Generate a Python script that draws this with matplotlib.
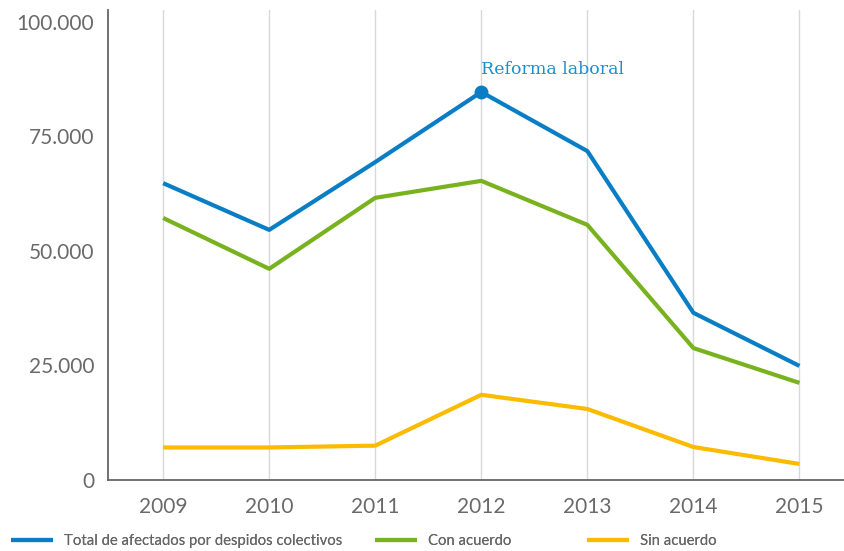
import matplotlib
matplotlib.use("Agg")
import matplotlib.pyplot as plt
from matplotlib.ticker import FuncFormatter

years = [2009, 2010, 2011, 2012, 2013, 2014, 2015]
total = [64800, 54600, 69400, 84700, 71800, 36500, 24900]
con_acuerdo = [57200, 46100, 61600, 65300, 55700, 28800, 21200]
sin_acuerdo = [7100, 7100, 7500, 18600, 15500, 7200, 3500]
y_ticks = [0, 25000, 50000, 75000, 100000]

c_blue = "#0a7ec4"
c_green = "#79b21f"
c_yellow = "#fbbb00"

fig = plt.figure(figsize=(8.44, 5.51), dpi=100)
ax = fig.add_axes([108/844, 1-480/551, 1-108/844, 470/551])

l1, = ax.plot(years, total, color=c_blue, lw=3, solid_capstyle="butt", label="Total de afectados por despidos colectivos", zorder=3)
l2, = ax.plot(years, con_acuerdo, color=c_green, lw=3, solid_capstyle="butt", label="Con acuerdo", zorder=3)
l3, = ax.plot(years, sin_acuerdo, color=c_yellow, lw=3, solid_capstyle="butt", label="Sin acuerdo", zorder=3)

i = years.index(2012)
ax.plot([years[i]], [total[i]], "o", color=c_blue, ms=9, zorder=4)
ax.annotate("Reforma laboral", (years[i], total[i]), xytext=(0, 10), textcoords="offset points",
            ha="left", va="bottom", color="#1a8fd0", fontsize=12.5, family="DejaVu Serif")

ax.set_xlim(2008.48, 2015.42)
ax.set_ylim(0, 102600)
ax.set_xticks(years)
ax.set_yticks(y_ticks)
ax.yaxis.set_major_formatter(FuncFormatter(lambda v, p: f"{int(v):,}".replace(",", ".")))
ax.grid(axis="x", color="#d8d8d8", lw=1)
ax.grid(axis="y", visible=False)
ax.set_axisbelow(True)
for s in ["top", "right"]:
    ax.spines[s].set_visible(False)
for s in ["left", "bottom"]:
    ax.spines[s].set_color("#666666")
    ax.spines[s].set_linewidth(1.3)
ax.tick_params(length=0, labelsize=15, labelcolor="#6a6a6a")
ax.tick_params(axis="y", pad=10)
ax.tick_params(axis="x", pad=12)
for lab in ax.get_xticklabels() + ax.get_yticklabels():
    lab.set_family("Lato")

for line, xpos in [(l1, 11), (l2, 375), (l3, 587)]:
    leg = fig.legend([line], [line.get_label()], loc="center left",
                     bbox_to_anchor=(xpos / 844, 1 - 541 / 551), frameon=False, borderaxespad=0,
                     borderpad=0, handlelength=2.8, handletextpad=0.8,
                     prop={"family": "Lato", "size": 10.7})
    fig.add_artist(leg)
    for t in leg.get_texts():
        t.set_color("#666666")
    for h in leg.get_lines():
        h.set_linewidth(3)

fig.savefig("out.png", dpi=100)
